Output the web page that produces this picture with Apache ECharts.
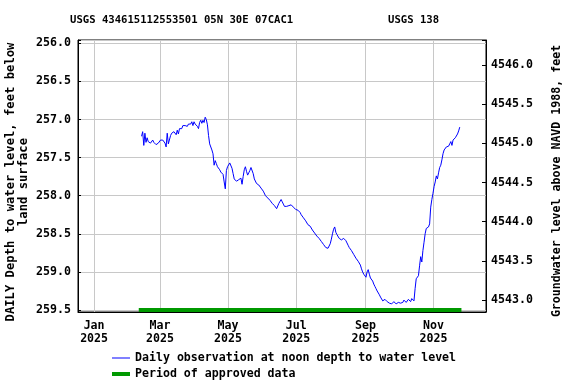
<!DOCTYPE html>
<html>
<head>
<meta charset="utf-8">
<script src="https://cdn.jsdelivr.net/npm/echarts@6/dist/echarts.min.js"></script>
<style>html,body{margin:0;padding:0;background:#fff}#c{width:576px;height:384px}</style>
</head>
<body>
<div id="c"></div>
<script>
// ---- data ----
var titleLeft = 'USGS 434615112553501 05N 30E 07CAC1';
var titleRight = 'USGS 138';
var firstDate = [2025, 1, 12];           // first daily observation (Feb 12, 2025)
var depth = [
257.22,257.16,257.34,257.18,257.30,257.24,257.29,257.27,257.31,257.29,
257.27,257.30,257.28,257.33,257.35,257.31,257.29,257.27,257.29,257.27,
257.26,257.31,257.36,257.18,257.32,257.30,257.21,257.18,257.20,257.16,
257.18,257.20,257.14,257.19,257.12,257.10,257.12,257.08,257.07,257.08,
257.06,257.09,257.06,257.05,257.06,257.03,257.08,257.03,257.06,257.04,
257.09,257.12,257.04,257.01,257.05,257.01,257.04,256.97,257.00,257.07,
257.21,257.32,257.34,257.40,257.45,257.60,257.54,257.58,257.62,257.64,
257.66,257.69,257.70,257.72,257.82,257.91,257.67,257.62,257.60,257.57,
257.59,257.64,257.71,257.78,257.79,257.81,257.80,257.79,257.78,257.77,
257.85,257.75,257.66,257.62,257.68,257.73,257.70,257.67,257.63,257.62,
257.71,257.78,257.80,257.84,257.85,257.86,257.88,257.90,257.92,257.94,
257.96,258.00,258.01,258.03,258.05,258.06,258.08,258.10,258.11,258.13,
258.15,258.17,258.17,258.10,258.08,258.05,258.08,258.11,258.14,258.16,
258.14,258.13,258.13,258.13,258.12,258.13,258.15,258.17,258.18,258.19,
258.19,258.21,258.22,258.25,258.27,258.29,258.30,258.33,258.35,258.38,
258.39,258.40,258.41,258.45,258.47,258.49,258.51,258.53,258.54,258.56,
258.57,258.60,258.62,258.64,258.66,258.68,258.69,258.69,258.68,258.63,
258.57,258.50,258.44,258.41,258.48,258.51,258.53,258.56,258.57,258.58,
258.57,258.56,258.56,258.59,258.62,258.65,258.68,258.70,258.72,258.74,
258.77,258.79,258.82,258.84,258.86,258.88,258.91,258.96,259.00,259.03,
259.05,259.07,259.00,258.97,259.03,259.08,259.10,259.12,259.16,259.19,
259.22,259.25,259.27,259.30,259.33,259.35,259.38,259.37,259.36,259.38,
259.39,259.40,259.41,259.40,259.42,259.41,259.39,259.40,259.42,259.41,
259.40,259.40,259.41,259.39,259.40,259.37,259.38,259.40,259.38,259.36,
259.37,259.39,259.35,259.34,259.38,259.22,259.09,259.07,259.05,258.92,
258.80,258.87,258.72,258.61,258.50,258.43,258.42,258.41,258.37,258.15,
258.05,257.97,257.88,257.82,257.74,257.78,257.70,257.63,257.60,257.53,
257.45,257.40,257.38,257.36,257.36,257.35,257.32,257.29,257.34,257.27,
257.25,257.24,257.23,257.19,257.15,257.10
];
var approvedStart = [2025, 1, 10];
var approvedEnd = [2025, 10, 26];
var approvedDepth = 259.5;
var leftRange = [255.957, 259.526];
var rightRange = [4542.845, 4546.322];
var xRange = [[2024, 11, 17, 14], [2025, 11, 18, 0]];
var monthNames = ['Jan','Feb','Mar','Apr','May','Jun','Jul','Aug','Sep','Oct','Nov','Dec'];
var seriesNames = ['Daily observation at noon depth to water level', 'Period of approved data'];
var seriesColors = ['#0000ff', '#009900'];
var leftName = 'DAILY Depth to water level, feet below\nland surface';
var rightName = 'Groundwater level above NAVD 1988, feet';

// ---- build ----
function ts(a) { return new Date(a[0], a[1], a[2], a[3] || 0).getTime(); }
var obs = depth.map(function (v, i) {
  return [new Date(firstDate[0], firstDate[1], firstDate[2] + i, 12).getTime(), v];
});
var approved = [[ts(approvedStart), approvedDepth], [ts(approvedEnd), approvedDepth]];

var FONT = 'DejaVu Sans Mono';
var txt = { fontFamily: FONT, fontWeight: 'bold', fontSize: 11.6, color: '#000' };
function halfFmt(v) {
  var r = Math.round(v * 2) / 2;
  return Math.abs(r - v) < 1e-6 ? r.toFixed(1) : '';
}

var chart = echarts.init(document.getElementById('c'), null, { renderer: 'canvas' });
chart.setOption({
  animation: false,
  backgroundColor: '#fff',
  title: [
    { text: titleLeft, left: 70, top: 15, padding: 0, textStyle: { fontFamily: FONT, fontWeight: 'bold', fontSize: 10.6, color: '#000' } },
    { text: titleRight, left: 388, top: 15, padding: 0, textStyle: { fontFamily: FONT, fontWeight: 'bold', fontSize: 10.6, color: '#000' } }
  ],
  grid: {
    left: 78, top: 40, width: 408, height: 272, containLabel: false, outerBoundsMode: 'none',
    show: true, borderColor: '#000', borderWidth: 1, backgroundColor: 'transparent'
  },
  legend: [
    {
      left: 112, top: 352, padding: 0, itemWidth: 18, itemHeight: 1, itemGap: 2, textStyle: txt,
      data: [{ name: seriesNames[0], icon: 'rect', itemStyle: { color: seriesColors[0] } }]
    },
    {
      left: 112, top: 368, padding: 0, itemWidth: 18, itemHeight: 4, itemGap: 2, textStyle: txt,
      data: [{ name: seriesNames[1], icon: 'rect', itemStyle: { color: seriesColors[1] } }]
    }
  ],
  xAxis: {
    type: 'time', min: ts(xRange[0]), max: ts(xRange[1]), splitNumber: 6,
    axisLine: { show: true, lineStyle: { color: '#000', width: 1 } },
    axisTick: { show: false },
    splitLine: { show: true, lineStyle: { color: '#c8c8c8', width: 1 } },
    axisLabel: {
      margin: 7, lineHeight: 13, ...txt,
      formatter: function (v) { var d = new Date(v); return monthNames[d.getMonth()] + '\n' + d.getFullYear(); }
    }
  },
  yAxis: [
    {
      type: 'value', inverse: true, min: leftRange[0], max: leftRange[1], splitNumber: 7,
      position: 'left',
      name: leftName, nameLocation: 'middle', nameRotate: 90, nameGap: 48, nameMoveOverlap: false,
      nameTextStyle: { ...txt, fontSize: 12.2, lineHeight: 12.5, padding: [0, 12, 0, 0] },
      axisLine: { show: true, lineStyle: { color: '#000' } },
      axisTick: { show: true, inside: true, length: 3, lineStyle: { color: '#000' } },
      splitLine: { show: true, lineStyle: { color: '#c8c8c8', width: 1 } },
      axisLabel: { margin: 7, ...txt, formatter: halfFmt }
    },
    {
      type: 'value', min: rightRange[0], max: rightRange[1], splitNumber: 7,
      position: 'right',
      name: rightName, nameLocation: 'middle', nameRotate: 90, nameGap: 65,
      nameTextStyle: { ...txt, padding: [0, 10, 0, 0] },
      axisLine: { show: true, lineStyle: { color: '#000' } },
      axisTick: { show: true, inside: true, length: 4, lineStyle: { color: '#000' } },
      splitLine: { show: false },
      axisLabel: { margin: 5, ...txt, formatter: halfFmt }
    }
  ],
  series: [
    {
      name: seriesNames[0], type: 'line', data: obs, yAxisIndex: 0,
      symbol: 'none', lineStyle: { color: seriesColors[0], width: 1 }, itemStyle: { color: seriesColors[0] }, z: 3
    },
    {
      name: seriesNames[1], type: 'line', data: approved, yAxisIndex: 0,
      symbol: 'none', lineStyle: { color: seriesColors[1], width: 4, cap: 'butt' }, itemStyle: { color: seriesColors[1] }, z: 2
    }
  ]
});
</script>
</body>
</html>
